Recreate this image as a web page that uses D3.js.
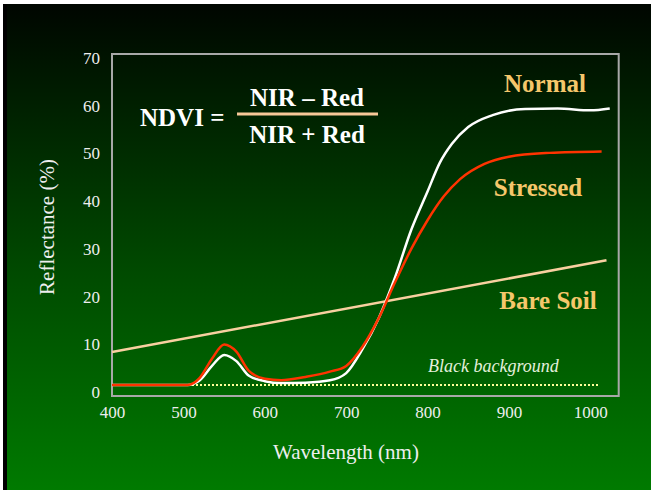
<!DOCTYPE html>
<html>
<head>
<meta charset="utf-8">
<script src="https://cdn.jsdelivr.net/npm/d3@7"></script>
<style>
  body { margin: 0; background: #ffffff; }
  text { font-family: "Liberation Serif", "Times New Roman", serif; }
</style>
</head>
<body>
<div id="chart"></div>
<script>
// readings: wavelength (nm) and reflectance (%)
var normalNm   = [400, 505, 520, 535, 550, 565, 580, 600, 620, 650, 680, 700, 720, 740, 760, 780, 800, 815, 830, 850, 880, 920, 960, 1000, 1024];
var normalPct  = [1.5, 1.5, 2.5, 5.5, 7.8, 6.5, 3.5, 2.3, 1.9, 2.0, 2.5, 4.0, 9.0, 15.5, 24, 34, 42, 48, 52, 55.5, 58, 59.3, 59.4, 59.0, 59.4];
var stressNm   = [400, 505, 520, 535, 550, 565, 580, 600, 620, 650, 680, 700, 720, 740, 760, 780, 800, 820, 840, 870, 900, 950, 1014];
var stressPct  = [1.5, 1.5, 3.0, 7.0, 10.0, 8.5, 4.5, 2.8, 2.5, 3.2, 4.3, 5.5, 9.5, 15.5, 23, 30, 36, 41, 44.6, 47.8, 49.3, 50.1, 50.4];
var soilNm     = [400, 1020];
var soilPct    = [8.4, 27.6];
var blackNm    = [400, 1010];
var blackPct   = [1.5, 1.5];
var xTicks     = [400, 500, 600, 700, 800, 900, 1000];
var yTicks     = [0, 10, 20, 30, 40, 50, 60, 70];

var W = 651, H = 490;
var svg = d3.select("#chart").append("svg")
    .attr("width", W).attr("height", H);

// background gradient, dark at the top to green at the bottom
var grad = svg.append("defs").append("linearGradient")
    .attr("id", "bg").attr("x1", 0).attr("y1", 0).attr("x2", 0).attr("y2", 1);
grad.append("stop").attr("offset", "0%").attr("stop-color", "#000600");
grad.append("stop").attr("offset", "55%").attr("stop-color", "#004a00");
grad.append("stop").attr("offset", "100%").attr("stop-color", "#007a00");

svg.append("rect").attr("x", 3).attr("y", 4).attr("width", 5).attr("height", H - 4).attr("fill", "#000");
svg.append("rect").attr("x", 7).attr("y", 4).attr("width", W - 7).attr("height", H - 4).attr("fill", "url(#bg)");

// the "400" label sits at the frame edge in the original, so the scale is polylinear
var x = d3.scaleLinear().domain([400, 500, 1035]).range([112, 183.5, 618.7]);
var y = d3.scaleLinear().domain([-0.8, 70.8]).range([396, 54]);

// frame
svg.append("rect")
    .attr("x", x(400)).attr("y", y(70.8))
    .attr("width", x(1035) - x(400)).attr("height", y(-0.8) - y(70.8))
    .attr("fill", "none").attr("stroke", "#a8a8a8").attr("stroke-width", 2);

var xAxis = svg.append("g")
    .attr("transform", "translate(0," + y(-0.8) + ")")
    .call(d3.axisBottom(x).tickValues(xTicks).tickFormat(d3.format("d")).tickSize(0).tickPadding(10));
var yAxis = svg.append("g")
    .attr("transform", "translate(" + x(400) + ",0)")
    .call(d3.axisLeft(y).tickValues(yTicks).tickFormat(d3.format("d")).tickSize(0).tickPadding(12));
[xAxis, yAxis].forEach(function(a) {
  a.select(".domain").remove();
  a.selectAll("text")
    .style("font-size", "17px")
    .style("font-family", "Liberation Serif, serif")
    .attr("fill", "#eeeeee");
});

svg.append("text")
   .attr("x", 346).attr("y", 459)
   .attr("text-anchor", "middle")
   .attr("fill", "#eeeeee")
   .style("font-size", "21px")
   .text("Wavelength (nm)");
svg.append("text")
   .attr("transform", "translate(54,227) rotate(-90)")
   .attr("text-anchor", "middle")
   .attr("fill", "#eeeeee")
   .style("font-size", "21px")
   .text("Reflectance (%)");

function pairs(xs, ys) { return xs.map(function(d, i) { return [d, ys[i]]; }); }

var line = d3.line()
    .x(function(d) { return x(d[0]); })
    .y(function(d) { return y(d[1]); })
    .curve(d3.curveMonotoneX);

// black background (dotted)
svg.append("path")
   .datum(pairs(blackNm, blackPct))
   .attr("d", d3.line().x(function(d) { return x(d[0]); }).y(function(d) { return y(d[1]); }))
   .attr("fill", "none").attr("stroke", "#ffff99")
   .attr("stroke-width", 2).attr("stroke-dasharray", "2,2");

// bare soil
svg.append("path")
   .datum(pairs(soilNm, soilPct))
   .attr("d", line)
   .attr("fill", "none").attr("stroke", "#f8d0a0").attr("stroke-width", 2.5);

// normal vegetation
svg.append("path")
   .datum(pairs(normalNm, normalPct))
   .attr("d", line)
   .attr("fill", "none").attr("stroke", "#ffffff").attr("stroke-width", 2.5);

// stressed vegetation
svg.append("path")
   .datum(pairs(stressNm, stressPct))
   .attr("d", line)
   .attr("fill", "none").attr("stroke", "#ff3300").attr("stroke-width", 2.5);

// curve labels
var gold = "#f5c76b";
[["Normal", 545, 92], ["Stressed", 538, 196], ["Bare Soil", 548, 309]].forEach(function(l) {
  svg.append("text")
     .attr("x", l[1]).attr("y", l[2])
     .attr("text-anchor", "middle")
     .attr("fill", gold)
     .style("font-size", "25px").style("font-weight", "bold")
     .text(l[0]);
});

svg.append("text")
   .attr("x", 428).attr("y", 372)
   .attr("fill", "#e4f0dc")
   .style("font-size", "18px").style("font-style", "italic")
   .text("Black background");

// NDVI formula
svg.append("text")
   .attr("x", 140).attr("y", 126)
   .attr("fill", "#ffffff")
   .style("font-size", "25px").style("font-weight", "bold")
   .text("NDVI =");
svg.append("text")
   .attr("x", 307).attr("y", 106)
   .attr("text-anchor", "middle")
   .attr("fill", "#ffffff")
   .style("font-size", "25px").style("font-weight", "bold")
   .text("NIR \u2013 Red");
svg.append("line")
   .attr("x1", 237).attr("x2", 378).attr("y1", 114).attr("y2", 114)
   .attr("stroke", "#f8c898").attr("stroke-width", 3);
svg.append("text")
   .attr("x", 307).attr("y", 143)
   .attr("text-anchor", "middle")
   .attr("fill", "#ffffff")
   .style("font-size", "25px").style("font-weight", "bold")
   .text("NIR + Red");
</script>
</body>
</html>
